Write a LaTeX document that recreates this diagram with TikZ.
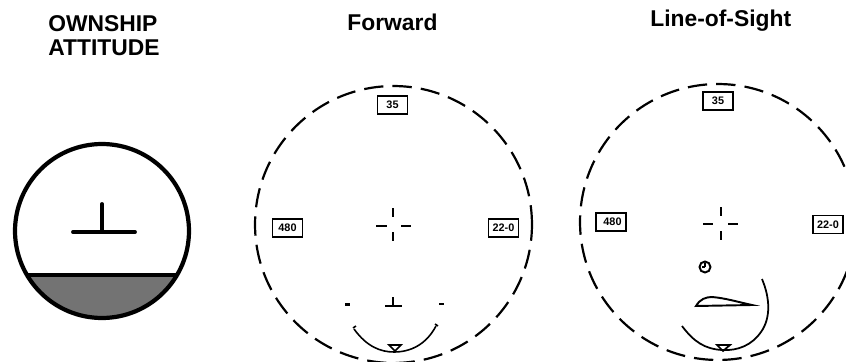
\documentclass[tikz,border=0pt]{standalone}
\usepackage{fontspec}
\setmainfont{Liberation Sans}
\usetikzlibrary{arrows.meta, positioning}
\tikzset{
  heading/.style={font=\fontsize{13}{14}\selectfont\bfseries, align=left, anchor=north west, inner sep=0pt},
  readout/.style={rectangle, draw, line width=0.85pt, minimum width=0.6cm, minimum height=0.36cm,
                  inner sep=0pt, font=\fontsize{6.2}{7}\selectfont\bfseries},
  fov/.style={line width=1.25pt, dash pattern=on 11pt off 5.2pt},
  cross/.style={line width=0.9pt},
  wedge/.style={line width=1pt},
}

\begin{document}
\begin{tikzpicture}[x=0.02cm, y=-0.02cm]

  \clip (0,0) rectangle (846,362);

  % attitude ball
  \fill[black!55] (28,275) -- (176,275) arc[start angle=-31, end angle=-149, radius=1.72cm] -- cycle;
  \draw[line width=2pt] (28,275) -- (176,275);
  \draw[line width=2.4pt] (102,231) circle[radius=1.74cm];
  \draw[line width=2.2pt, line cap=round] (73,232) -- (135,232);
  \draw[line width=2.2pt, line cap=round] (102,204) -- (102,232);

  \node[heading] (own) at (48,15) {OWNSHIP\\ATTITUDE};
  \node[heading] (fwd) at (347,14) {Forward};
  \node[heading] (los) at (650,10) {Line-of-Sight};

  % forward display
  \draw[fov] (393.5,224.5) circle[radius=2.77cm];
  \node[readout] (fspd) at (287.5,228) {480};
  \node[readout] (fhdg) at (503.5,228) {22-0};
  \node[readout] (falt) at (392.5,105) {35};
  \draw[cross] (393,208) -- (393,217) (393,232) -- (393,241);
  \draw[cross] (376,226) -- (387,226) (401,226) -- (411,226);
  \draw[line width=0.9pt] (385,306) -- (402,306) (393,297) -- (393,306);
  \draw[line width=1.3pt] (345,304.5) -- (350,304.5) (439,304) -- (444,304);
  \draw[line width=0.9pt] (354,329) .. controls (367,347) and (381,352) .. (394,352)
                          .. controls (410,352) and (426,345) .. (436,326);
  \draw[line width=0.9pt] (353,328) -- (356,326) (435,324) -- (438,326);
  \draw[wedge] (389,345) -- (401,345) -- (395,351) -- cycle;

  % line of sight display
  \draw[fov] (718,222) circle[radius=2.76cm];
  \node[readout] (lspd) at (611,222) {\ 480};
  \node[readout] (lhdg) at (828,224.5) {22-0};
  \node[readout] (lalt) at (718,101) {35};
  \draw[cross] (721,207) -- (721,216) (721,231) -- (721,240);
  \draw[cross] (703,224) -- (713,224) (728,224) -- (738,224);
  \draw[line width=1.1pt] (705,267) circle[radius=0.11cm];
  \draw[line width=0.7pt] (705,267) -- (705,263) (705,267) -- (702,267);
  \draw[line width=1.1pt] (696,306) .. controls (700,299) and (706,297) .. (712,297)
                          .. controls (725,298) and (738,302) .. (752,305) -- cycle;
  \draw[line width=1pt] (762,279) .. controls (770,298) and (771,318) .. (761,332)
                          .. controls (752,345) and (738,351) .. (722,350)
                          .. controls (705,349) and (694,342) .. (682,326);
  \draw[wedge] (717,345) -- (730,345) -- (723,351) -- cycle;

\end{tikzpicture}
\end{document}
